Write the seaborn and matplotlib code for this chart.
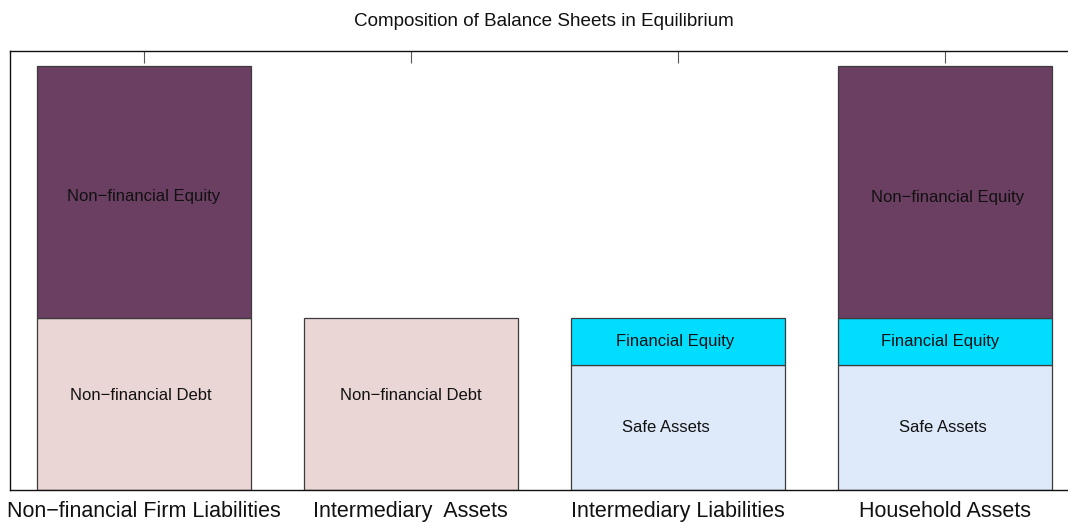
import seaborn as sns
import matplotlib.pyplot as plt
import pandas as pd

# balance sheet pieces, bottom to top for each column
columns = ["Non\u2212financial Firm Liabilities", "Intermediary  Assets",
           "Intermediary Liabilities", "Household Assets"]
seg_column = [0, 0, 1, 2, 2, 3, 3, 3]
seg_name   = ["Non\u2212financial Debt", "Non\u2212financial Equity",
              "Non\u2212financial Debt",
              "Safe Assets", "Financial Equity",
              "Safe Assets", "Financial Equity", "Non\u2212financial Equity"]
seg_value  = [0.405, 0.595, 0.405, 0.295, 0.110, 0.295, 0.110, 0.595]
# small nudges of the text labels from segment centre (x in bar units, y in data units)
label_dx = [-0.01, 0.0, 0.0, -0.045, -0.01, -0.01, -0.02, 0.01]
label_dy = [0.02, -0.01, 0.02, 0.0, 0.0, 0.0, 0.0, -0.014]

colors = {
    "Non\u2212financial Debt": "#ebd6d6",
    "Non\u2212financial Equity": "#6b3f62",
    "Safe Assets": "#deeaf9",
    "Financial Equity": "#00ddff",
}

df = pd.DataFrame({"column": [columns[i] for i in seg_column],
                   "segment": seg_name, "value": seg_value,
                   "dx": label_dx, "dy": label_dy})
df["bottom"] = df.groupby("column", sort=False)["value"].cumsum() - df["value"]

sns.set_theme(style="white")
plt.rcParams["font.family"] = ["Liberation Sans", "DejaVu Sans"]

fig = plt.figure(figsize=(10.68, 5.23), dpi=100)
ax = fig.add_axes([10 / 1068, 33 / 523, 1069 / 1068, 439 / 523])

for _, row in df.iterrows():
    sns.barplot(x=[row["column"]], y=[row["value"]], order=columns,
                bottom=row["bottom"], color=colors[row["segment"]],
                saturation=1, width=0.8, errorbar=None,
                edgecolor="#3c3c3c", linewidth=0.9, ax=ax)
    xpos = columns.index(row["column"])
    ax.text(xpos + row["dx"], row["bottom"] + row["value"] / 2 + row["dy"],
            row["segment"], ha="center", va="center", fontsize=12,
            color="#111111")

ax.set_xlim(-0.5, 3.5)
ax.set_ylim(0, 1.035)
ax.set_xlabel("")
ax.set_ylabel("")
ax.set_yticks([])
ax.tick_params(axis="x", which="both", top=True, bottom=False, direction="in",
               length=8.6, width=0.8, color="#555555", labelsize=15.5,
               labelcolor="#111111", pad=8)
for s in ["left", "top", "bottom", "right"]:
    ax.spines[s].set_visible(True)
    ax.spines[s].set_color("#111111")
    ax.spines[s].set_linewidth(1.0)

fig.text(544 / 1068, 1 - 22 / 523, "Composition of Balance Sheets in Equilibrium",
         ha="center", va="center", fontsize=13.6, color="#111111")

fig.savefig("out.png", dpi=100)
